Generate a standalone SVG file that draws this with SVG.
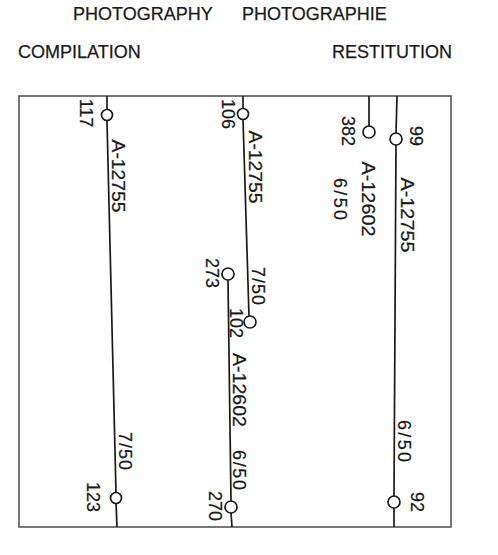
<svg xmlns="http://www.w3.org/2000/svg" width="498" height="555" viewBox="0 0 498 555">
<style>
text{font-family:"Liberation Sans",Arial,sans-serif;font-size:18px;fill:#1a1a1a;stroke:#1a1a1a;stroke-width:0.25}
.r{text-anchor:middle}
.ln{stroke:#1a1a1a;stroke-width:1.7;fill:none}
.c{stroke:#1a1a1a;stroke-width:1.7;fill:#fff}
.frame{stroke:#555;stroke-width:1.6;fill:none}
</style>
<rect width="498" height="555" fill="#fff"/>
<g id="titles">
<text x="73" y="20">PHOTOGRAPHY</text>
<text x="242" y="20">PHOTOGRAPHIE</text>
<text x="18" y="58">COMPILATION</text>
<text x="452" y="58" text-anchor="end">RESTITUTION</text>
</g>
<rect id="frame" class="frame" x="19" y="96" width="432" height="431"/>
<g id="connectors">
<line class="ln" x1="107" y1="96" x2="107" y2="110"/>
<line class="ln" x1="107" y1="121" x2="116" y2="492"/>
<line class="ln" x1="116" y1="503" x2="117" y2="527"/>
<line class="ln" x1="243" y1="96" x2="243" y2="108"/>
<line class="ln" x1="243" y1="119" x2="249" y2="316"/>
<line class="ln" x1="228" y1="280" x2="231" y2="501"/>
<line class="ln" x1="231" y1="513" x2="232" y2="527"/>
<line class="ln" x1="369" y1="96" x2="369" y2="126"/>
<line class="ln" x1="397" y1="96" x2="396" y2="133"/>
<line class="ln" x1="396" y1="145" x2="394" y2="496"/>
<line class="ln" x1="394" y1="508" x2="394" y2="527"/>
</g>
<g id="n117"><circle class="c" cx="107" cy="115" r="5.5"/><text class="r" transform="translate(86,113) rotate(90)" dy="0.36em">117</text></g>
<g id="nA12755a"><text class="r" transform="translate(118,176) rotate(90)" dy="0.36em" textLength="73" lengthAdjust="spacingAndGlyphs">A-12755</text></g>
<g id="n750a"><text class="r" transform="translate(125,451) rotate(90)" dy="0.36em" textLength="38" lengthAdjust="spacing">7/50</text></g>
<g id="n123"><circle class="c" cx="116" cy="498" r="5.5"/><text class="r" transform="translate(93,497) rotate(90)" dy="0.36em">123</text></g>
<g id="n106"><circle class="c" cx="243" cy="114" r="5.5"/><text class="r" transform="translate(228,114) rotate(90)" dy="0.36em">106</text></g>
<g id="nA12755b"><text class="r" transform="translate(255,167) rotate(90)" dy="0.36em" textLength="73" lengthAdjust="spacingAndGlyphs">A-12755</text></g>
<g id="n750b"><text class="r" transform="translate(258,286) rotate(90)" dy="0.36em" textLength="38" lengthAdjust="spacing">7/50</text></g>
<g id="n102"><circle class="c" cx="250" cy="322" r="6"/><text class="r" transform="translate(236,323) rotate(90)" dy="0.36em">102</text></g>
<g id="n273"><circle class="c" cx="228" cy="274" r="6"/><text class="r" transform="translate(212,273) rotate(90)" dy="0.36em">273</text></g>
<g id="nA12602b"><text class="r" transform="translate(239,390) rotate(90)" dy="0.36em" textLength="74" lengthAdjust="spacingAndGlyphs">A-12602</text></g>
<g id="n650b"><text class="r" transform="translate(239,470) rotate(90)" dy="0.36em" textLength="40" lengthAdjust="spacing">6/50</text></g>
<g id="n270"><circle class="c" cx="231" cy="507" r="6"/><text class="r" transform="translate(215,506) rotate(90)" dy="0.36em">270</text></g>
<g id="n382"><circle class="c" cx="369" cy="132" r="6"/><text class="r" transform="translate(348,131) rotate(90)" dy="0.36em">382</text></g>
<g id="nA12602a"><text class="r" transform="translate(368,199) rotate(90)" dy="0.36em" textLength="75" lengthAdjust="spacingAndGlyphs">A-12602</text></g>
<g id="n650a"><text class="r" transform="translate(340,199) rotate(90)" dy="0.36em" textLength="42" lengthAdjust="spacing">6/50</text></g>
<g id="n99"><circle class="c" cx="396" cy="139" r="6"/><text class="r" transform="translate(416,136) rotate(90)" dy="0.36em">99</text></g>
<g id="nA12755c"><text class="r" transform="translate(407,215) rotate(90)" dy="0.36em" textLength="75" lengthAdjust="spacingAndGlyphs">A-12755</text></g>
<g id="n650c"><text class="r" transform="translate(404,441) rotate(90)" dy="0.36em" textLength="42" lengthAdjust="spacing">6/50</text></g>
<g id="n92"><circle class="c" cx="394" cy="502" r="6"/><text class="r" transform="translate(417,502) rotate(90)" dy="0.36em">92</text></g>
</svg>
